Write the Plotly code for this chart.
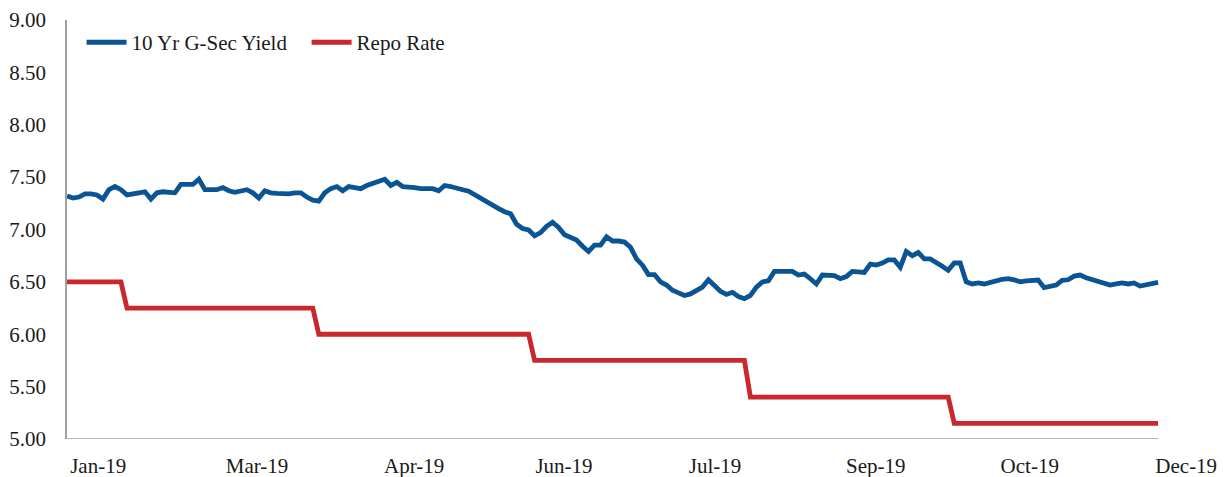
import plotly.graph_objects as go

gsec_yield = [
    7.32, 7.30, 7.31, 7.34, 7.34, 7.33, 7.29, 7.38, 7.41, 7.38,
    7.33, 7.34, 7.36, 7.36, 7.29, 7.35, 7.36, 7.355, 7.35, 7.43,
    7.43, 7.43, 7.48, 7.38, 7.38, 7.38, 7.40, 7.37, 7.355, 7.37,
    7.38, 7.35, 7.30, 7.37, 7.35, 7.345, 7.34, 7.34, 7.35, 7.35,
    7.31, 7.28, 7.27, 7.35, 7.39, 7.41, 7.37, 7.41, 7.40, 7.39,
    7.42, 7.44, 7.46, 7.48, 7.42, 7.45, 7.41, 7.41, 7.40, 7.39,
    7.39, 7.39, 7.37, 7.42, 7.41, 7.39, 7.38, 7.365, 7.33, 7.30,
    7.27, 7.23, 7.20, 7.17, 7.15, 7.05, 7.01, 6.995, 6.94, 6.97,
    7.03, 7.07, 7.02, 6.95, 6.93, 6.90, 6.84, 6.79, 6.85, 6.85,
    6.93, 6.89, 6.89, 6.88, 6.83, 6.72, 6.66, 6.57, 6.57, 6.50,
    6.47, 6.42, 6.395, 6.37, 6.385, 6.42, 6.45, 6.52, 6.47, 6.41,
    6.38, 6.40, 6.36, 6.34, 6.37, 6.45, 6.50, 6.51, 6.60, 6.60,
    6.60, 6.60, 6.565, 6.575, 6.53, 6.48, 6.565, 6.56, 6.56, 6.53,
    6.55, 6.60, 6.59, 6.59, 6.67, 6.66, 6.68, 6.71, 6.71, 6.64,
    6.79, 6.75, 6.78, 6.72, 6.72, 6.69, 6.65, 6.61, 6.68, 6.68,
    6.50, 6.48, 6.49, 6.48, 6.49, 6.51, 6.525, 6.53, 6.52, 6.50,
    6.51, 6.515, 6.518, 6.445, 6.455, 6.47, 6.515, 6.52, 6.555, 6.565,
    6.54, 6.52, 6.51, 6.49, 6.47, 6.48, 6.49, 6.48, 6.49, 6.46,
    6.47, 6.485, 6.495,
]

# Repo rate on the same observations
repo_rate = (
    [6.50] * 10 +
    [6.25] * 32 +
    [6.00] * 36 +
    [5.75] * 36 +
    [5.40] * 34 +
    [5.15] * 35
)

obs = list(range(len(gsec_yield)))

# x-axis labels and the observation positions at which they sit
tick_labels = ["Jan-19", "Mar-19", "Apr-19", "Jun-19", "Jul-19", "Sep-19", "Oct-19", "Dec-19"]
tick_positions = [5.2, 31.7, 57.9, 82.9, 108.1, 134.9, 160.6, 186.7]

y_ticks = [5.0, 5.5, 6.0, 6.5, 7.0, 7.5, 8.0, 8.5, 9.0]

FONT = "Liberation Serif, Times New Roman, serif"
BLUE = "#0A5494"
RED = "#C9282D"
AXIS = "#A0A0A0"

fig = go.Figure()
fig.add_trace(go.Scatter(x=obs, y=gsec_yield, mode="lines", name="10 Yr G-Sec Yield",
                         line=dict(color=BLUE, width=4.8)))
fig.add_trace(go.Scatter(x=obs, y=repo_rate, mode="lines", name="Repo Rate",
                         line=dict(color=RED, width=4.8)))

# bottom axis line spanning the data only
fig.add_shape(type="line", xref="x", yref="y", x0=obs[0], x1=obs[-1], y0=5.0, y1=5.0,
              line=dict(color=AXIS, width=1.5), layer="below")

fig.update_layout(
    width=1230, height=477,
    margin=dict(l=67, r=15, t=20, b=38),
    paper_bgcolor="white", plot_bgcolor="white",
    font=dict(family=FONT, size=21, color="#1a1a1a"),
    showlegend=True,
    legend=dict(orientation="h", x=0.0127, y=0.995, xanchor="left", yanchor="top",
                font=dict(family=FONT, size=21, color="#1a1a1a"),
                bgcolor="rgba(0,0,0,0)", itemwidth=40, tracegroupgap=0,
                entrywidth=170),
)
fig.update_xaxes(range=[0, 191.5], showgrid=False, zeroline=False, showline=False,
                 tickmode="array", tickvals=tick_positions, ticktext=tick_labels,
                 ticks="", ticklabelstandoff=12, automargin=False)
fig.update_yaxes(range=[5, 9], showgrid=False, zeroline=False, showline=True,
                 linecolor=AXIS, linewidth=1.5, tickmode="array", tickvals=y_ticks,
                 ticktext=[f"{v:.2f}" for v in y_ticks], ticks="", ticklabelstandoff=15,
                 automargin=False)

fig.write_html("out.html", config={"displayModeBar": False},
               post_script="document.body.style.margin='0';document.body.style.overflow='hidden';")
